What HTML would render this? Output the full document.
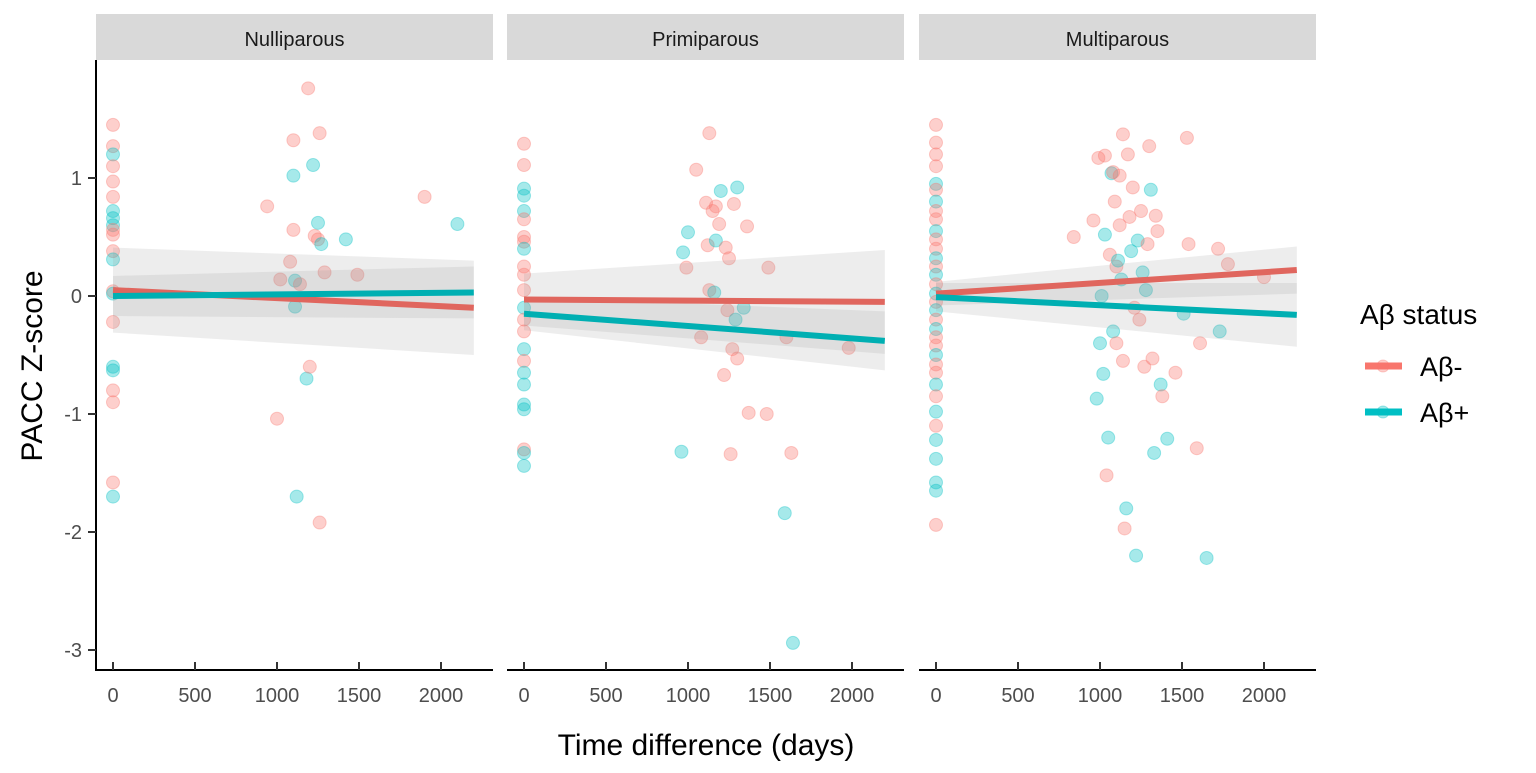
<!DOCTYPE html>
<html><head><meta charset="utf-8"><style>
body{margin:0;background:#fff;font-family:"Liberation Sans",Arial,sans-serif}
svg text{font-family:"Liberation Sans",Arial,sans-serif}
</style></head><body>
<svg id="chart" width="1536" height="768" xmlns="http://www.w3.org/2000/svg"></svg>
<script>
const panelNames = ["Nulliparous","Primiparous","Multiparous"];
const xTicks = [0,500,1000,1500,2000];
const yTicks = [1,0,-1,-2,-3];
// points: [days, score, group(0=Aβ-,1=Aβ+)]
const nulliPoints = [[0,1.45,0],[0,1.27,0],[0,1.2,1],[0,1.1,0],[0,0.97,0],[0,0.84,0],[0,0.72,1],[0,0.66,1],[0,0.6,1],[0,0.56,0],[0,0.52,0],[0,0.38,0],[0,0.31,1],[0,0.04,0],[0,0.02,1],[0,-0.22,0],[0,-0.6,1],[0,-0.63,1],[0,-0.8,0],[0,-0.9,0],[0,-1.58,0],[0,-1.7,1],[940,0.76,0],[1000,-1.04,0],[1020,0.14,0],[1080,0.29,0],[1100,1.32,0],[1100,1.02,1],[1100,0.56,0],[1110,-0.09,1],[1110,0.13,1],[1120,-1.7,1],[1140,0.1,0],[1180,-0.7,1],[1190,1.76,0],[1200,-0.6,0],[1220,1.11,1],[1230,0.51,0],[1250,0.62,1],[1250,0.48,0],[1260,1.38,0],[1260,-1.92,0],[1270,0.44,1],[1290,0.2,0],[1420,0.48,1],[1490,0.18,0],[1900,0.84,0],[2100,0.61,1]];
const primiPoints = [[0,1.29,0],[0,1.11,0],[0,0.91,1],[0,0.85,1],[0,0.72,1],[0,0.65,0],[0,0.5,0],[0,0.46,0],[0,0.4,1],[0,0.25,0],[0,0.18,0],[0,0.05,0],[0,-0.1,1],[0,-0.2,0],[0,-0.3,0],[0,-0.45,1],[0,-0.55,0],[0,-0.65,1],[0,-0.75,1],[0,-0.92,1],[0,-0.96,1],[0,-1.3,0],[0,-1.33,1],[0,-1.44,1],[960,-1.32,1],[970,0.37,1],[990,0.24,0],[1000,0.54,1],[1050,1.07,0],[1080,-0.35,0],[1110,0.79,0],[1120,0.43,0],[1130,1.38,0],[1130,0.05,0],[1150,0.72,0],[1160,0.03,1],[1170,0.47,1],[1170,0.76,0],[1190,0.61,0],[1200,0.89,1],[1220,-0.67,0],[1230,0.41,0],[1240,-0.12,0],[1250,0.32,0],[1260,-1.34,0],[1270,-0.45,0],[1280,0.78,0],[1290,-0.2,1],[1300,-0.53,0],[1300,0.92,1],[1340,-0.1,1],[1360,0.59,0],[1370,-0.99,0],[1480,-1.0,0],[1490,0.24,0],[1590,-1.84,1],[1600,-0.35,0],[1630,-1.33,0],[1640,-2.94,1],[1980,-0.44,0]];
const multiPoints = [[0,1.45,0],[0,1.3,0],[0,1.2,0],[0,1.1,0],[0,0.95,1],[0,0.9,0],[0,0.8,1],[0,0.72,0],[0,0.65,0],[0,0.55,1],[0,0.48,0],[0,0.4,0],[0,0.32,1],[0,0.25,0],[0,0.18,1],[0,0.1,0],[0,0.02,1],[0,-0.05,0],[0,-0.12,1],[0,-0.2,0],[0,-0.28,1],[0,-0.35,0],[0,-0.42,0],[0,-0.5,1],[0,-0.58,0],[0,-0.65,0],[0,-0.75,1],[0,-0.85,0],[0,-0.98,1],[0,-1.1,0],[0,-1.22,1],[0,-1.38,1],[0,-1.58,1],[0,-1.65,1],[0,-1.94,0],[840,0.5,0],[960,0.64,0],[980,-0.87,1],[990,1.17,0],[1000,-0.4,1],[1010,0.0,1],[1020,-0.66,1],[1030,1.19,0],[1030,0.52,1],[1040,-1.52,0],[1050,-1.2,1],[1060,0.35,0],[1070,1.04,1],[1080,1.05,0],[1080,-0.3,1],[1090,0.8,0],[1100,0.25,0],[1100,-0.4,0],[1110,0.3,1],[1120,1.02,0],[1120,0.6,0],[1130,0.14,1],[1140,1.37,0],[1140,-0.55,0],[1150,-1.97,0],[1160,-1.8,1],[1170,1.2,0],[1180,0.67,0],[1190,0.38,1],[1200,0.92,0],[1210,-0.1,0],[1220,-2.2,1],[1230,0.47,1],[1240,-0.2,0],[1250,0.72,0],[1260,0.2,1],[1270,-0.6,0],[1280,0.05,1],[1290,0.44,0],[1300,1.27,0],[1310,0.9,1],[1320,-0.53,0],[1330,-1.33,1],[1340,0.68,0],[1350,0.55,0],[1370,-0.75,1],[1380,-0.85,0],[1410,-1.21,1],[1460,-0.65,0],[1510,-0.15,1],[1530,1.34,0],[1540,0.44,0],[1590,-1.29,0],[1610,-0.4,0],[1650,-2.22,1],[1720,0.4,0],[1730,-0.3,1],[1780,0.27,0],[2000,0.16,0]];
// fitted lines: [y at 0, y at 2200]
const fitNeg = [[0.05,-0.1],[-0.03,-0.05],[0.02,0.22]];
const fitPos = [[0.0,0.03],[-0.15,-0.38],[-0.01,-0.16]];
// ribbons half-widths [at 0, at 2200]
const seNeg = [[0.36,0.4],[0.22,0.44],[0.1,0.2]];
const sePos = [[0.17,0.22],[0.14,0.25],[0.12,0.27]];

const svg=document.getElementById('chart');
const NS="http://www.w3.org/2000/svg";
const panelX=[96,507,919], panelW=397, plotTop=60, plotBot=670;
const xs=(p,d)=>panelX[p]+17+d*0.164;
const ys=v=>296-v*118;
const cols=["#F8766D","#00BFC4"], lineCols=["#E0665E","#00AFB2"];
function mk(t,a,parent){const e=document.createElementNS(NS,t);for(const k in a)e.setAttribute(k,a[k]);(parent||svg).appendChild(e);return e;}
const pts=[nulliPoints,primiPoints,multiPoints];
for(let p=0;p<3;p++){
  const g=mk('g',{});
  
  
  const s=mk('rect',{x:panelX[p],y:14,width:panelW,height:46,fill:'#d9d9d9'},g);
  
  
  const st=mk('text',{x:panelX[p]+panelW/2,y:46,'text-anchor':'middle','font-size':20,fill:'#1a1a1a'},g);
  st.textContent=panelNames[p];
  
  
  pts[p].forEach(d=>{
    const c=mk('circle',{cx:xs(p,d[0]),cy:ys(d[1]),r:6.5,fill:cols[d[2]],'fill-opacity':0.35,stroke:cols[d[2]],'stroke-opacity':0.35,'stroke-width':1},g);
    
    
  });
  [[fitNeg,seNeg],[fitPos,sePos]].forEach(([f,se])=>{
    const a=f[p],b=se[p];
    const r=mk('polygon',{points:`${xs(p,0)},${ys(a[0]+b[0])} ${xs(p,2200)},${ys(a[1]+b[1])} ${xs(p,2200)},${ys(a[1]-b[1])} ${xs(p,0)},${ys(a[0]-b[0])}`,fill:'#999','fill-opacity':0.18},g);
    
    
  });
  [[fitNeg,0],[fitPos,1]].forEach(([f,k])=>{
    const l=mk('line',{x1:xs(p,0),y1:ys(f[p][0]),x2:xs(p,2200),y2:ys(f[p][1]),stroke:lineCols[k],'stroke-width':6},g);
    
    
  });
  const ax=mk('line',{x1:panelX[p],y1:plotBot,x2:panelX[p]+panelW,y2:plotBot,stroke:'#000','stroke-width':2},g);
  
  
  xTicks.forEach(t=>{
    mk('line',{x1:xs(p,t),y1:plotBot-8,x2:xs(p,t),y2:plotBot,stroke:'#333','stroke-width':2},g);
    const tl=mk('text',{x:xs(p,t),y:plotBot+32,'text-anchor':'middle','font-size':20,fill:'#4d4d4d'},g);
    tl.textContent=t;
    
    
  });
}
const ya=mk('line',{x1:96,y1:plotTop,x2:96,y2:plotBot+1,stroke:'#000','stroke-width':2});


yTicks.forEach(t=>{
  mk('line',{x1:88,y1:ys(t),x2:96,y2:ys(t),stroke:'#333','stroke-width':2});
  const tl=mk('text',{x:82,y:ys(t)+7,'text-anchor':'end','font-size':20,fill:'#4d4d4d'});
  tl.textContent=t;
  
  
});
const xt=mk('text',{x:706,y:755,'text-anchor':'middle','font-size':30,fill:'#000'});
xt.textContent='Time difference (days)';


const yt=mk('text',{x:0,y:0,'text-anchor':'middle','font-size':30,fill:'#000',transform:'translate(42,366) rotate(-90)'});
yt.textContent='PACC Z-score';


const lg=mk('g',{});


const ltl=mk('text',{x:1360,y:324,'font-size':28,fill:'#000'},lg);
ltl.textContent='Aβ status';


['Aβ-','Aβ+'].forEach((n,i)=>{
  const y=366+i*46;
  const e=mk('g',{},lg);
  
  
  mk('line',{x1:1365,y1:y,x2:1402,y2:y,stroke:cols[i],'stroke-width':7},e);
  mk('circle',{cx:1383,cy:y,r:6,fill:cols[i],'fill-opacity':0.35,stroke:cols[i],'stroke-opacity':0.35},e);
  const t=mk('text',{x:1420,y:y+10,'font-size':27,fill:'#000'},e);
  t.textContent=n;
});
</script>
</body></html>
